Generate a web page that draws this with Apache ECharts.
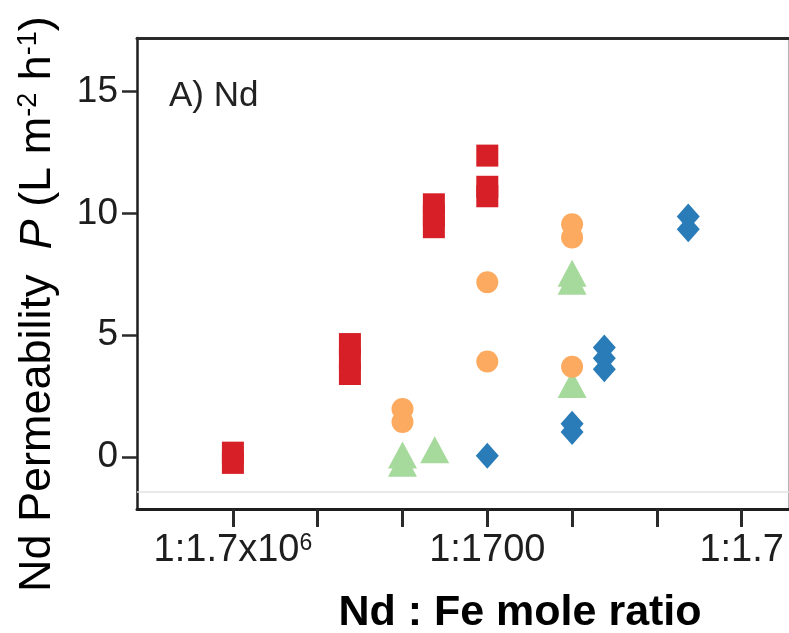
<!DOCTYPE html>
<html>
<head>
<meta charset="utf-8">
<script src="https://cdn.jsdelivr.net/npm/echarts@6/dist/echarts.min.js"></script>
<style>
  html, body { margin: 0; padding: 0; background: #fff; }
  #chart { width: 789px; height: 633px; }
</style>
</head>
<body>
<div id="chart"></div>
<script>
// x position = log10(1.7 × Nd/Fe): 1:1.7x10^6 → -6, 1:1700 → -3, 1:1.7 → 0
const squareX   = [-6, -6, -4.62, -4.62, -4.62, -3.63, -3.63, -3.63, -3, -3, -3];
const squareY   = [0.17, -0.25, 4.63, 4.02, 3.40, 10.37, 9.90, 9.43, 11.09, 10.70, 12.37];

const diamondX  = [-3, -2, -2, -1.62, -1.62, -1.62, -0.63, -0.63];
const diamondY  = [0.04, 1.36, 1.02, 4.49, 4.05, 3.60, 9.87, 9.35];

const triangleX = [-4, -4, -3.62, -2, -2, -2];
const triangleY = [0.07, -0.27, 0.29, 7.54, 7.21, 2.97];

const circleX   = [-4, -4, -3, -3, -2, -2, -2];
const circleY   = [1.96, 1.43, 7.17, 3.91, 9.55, 9.01, 3.70];

const xTickValues  = [-6, -5, -4, -3, -2, -1, 0];
const xLabelValues = [-6, -3, 0];
const xLabelTexts  = ['1:1.7x10{sup|6}', '1:1700', '1:1.7'];
const yTickValues  = [0, 5, 10, 15];

const pairs = (xs, ys) => xs.map((x, i) => [x, ys[i]]);

const FONT = '"Liberation Sans", Arial, sans-serif';
const AXIS_COLOR = '#1e1e1e';

const chart = echarts.init(document.getElementById('chart'), null, { renderer: 'canvas' });

const scatter = (name, xs, ys, symbol, size, color, extra) => Object.assign({
  name,
  type: 'scatter',
  data: pairs(xs, ys),
  symbol,
  symbolSize: size,
  itemStyle: { color, opacity: 1 },
  emphasis: { disabled: true },
  silent: true
}, extra || {});

chart.setOption({
  animation: false,
  backgroundColor: '#ffffff',
  title: {
    text: 'A) Nd',
    left: 164,
    top: 74,
    textStyle: { fontFamily: FONT, fontSize: 35, fontWeight: 'normal', color: '#222' }
  },
  grid: {
    left: 137, right: 0, top: 38, bottom: 124,
    containLabel: false,
    outerBoundsMode: 'none'
  },
  xAxis: [{
    type: 'value',
    position: 'bottom',
    min: -7.131,
    max: 0.558,
    splitLine: { show: false },
    axisLine: { show: true, onZero: false, lineStyle: { color: AXIS_COLOR, width: 3 } },
    axisTick: {
      show: true, length: 18, inside: false,
      customValues: xTickValues,
      lineStyle: { color: '#2a2a2a', width: 3 }
    },
    axisLabel: {
      show: true,
      customValues: xLabelValues,
      margin: 23,
      fontFamily: FONT,
      fontSize: 38,
      color: '#1e1e1e',
      formatter: (v) => {
        const i = xLabelValues.findIndex(t => Math.abs(t - v) < 1e-6);
        return i >= 0 ? xLabelTexts[i] : '';
      },
      rich: {
        sup: { fontFamily: FONT, fontSize: 23, color: '#1e1e1e', verticalAlign: 'top', padding: [0, 0, 15, 0] }
      }
    }
  }, {
    type: 'value',
    position: 'top',
    min: -7.131,
    max: 0.558,
    splitLine: { show: false },
    axisLine: { show: true, onZero: false, lineStyle: { color: '#2a2a2a', width: 3 } },
    axisTick: { show: false },
    axisLabel: { show: false }
  }],
  yAxis: [{
    type: 'value',
    position: 'left',
    min: -2.144,
    max: 17.20,
    splitLine: { show: false },
    axisLine: { show: true, onZero: false, lineStyle: { color: AXIS_COLOR, width: 2.5 } },
    axisTick: {
      show: true, length: 15, inside: false,
      customValues: yTickValues,
      lineStyle: { color: '#2a2a2a', width: 2.5 }
    },
    axisLabel: {
      show: true,
      customValues: yTickValues,
      margin: 19,
      fontFamily: FONT,
      fontSize: 37,
      color: '#1e1e1e'
    }
  }, {
    type: 'value',
    position: 'right',
    min: -2.144,
    max: 17.20,
    splitLine: { show: false },
    axisLine: { show: true, onZero: false, lineStyle: { color: '#9a9a9a', width: 1.5 } },
    axisTick: { show: false },
    axisLabel: { show: false }
  }],
  series: [
    scatter('square', squareX, squareY, 'rect', 22, '#d61f26', {
      markLine: {
        silent: true,
        symbol: 'none',
        label: { show: false },
        lineStyle: { color: '#e2e2e2', width: 1.5, type: 'solid' },
        data: [{ yAxis: -1.446 }]
      }
    }),
    scatter('diamond', diamondX, diamondY, 'diamond', [23, 26], '#2a7cb8'),
    scatter('triangle', triangleX, triangleY, 'triangle', [29, 27], '#a6d99c'),
    scatter('circle', circleX, circleY, 'circle', 22, '#fcaa60')
  ],
  graphic: [{
    type: 'text',
    x: 38,
    y: 592,
    rotation: Math.PI / 2,
    silent: true,
    style: {
      text: 'Nd Permeability  {i|P} (L m{sup|-2} h{sup|-1})',
      fontFamily: FONT,
      fontSize: 45,
      fill: '#000',
      textAlign: 'left',
      textVerticalAlign: 'middle',
      rich: {
        i: { fontFamily: FONT, fontSize: 45, fontStyle: 'italic', fill: '#000' },
        sup: { fontFamily: FONT, fontSize: 27, fill: '#000', verticalAlign: 'top', padding: [0, 0, 18, 0] }
      }
    }
  }, {
    type: 'text',
    x: 520,
    y: 613,
    silent: true,
    style: {
      text: 'Nd : Fe mole ratio',
      fontFamily: FONT,
      fontSize: 43,
      fontWeight: 'bold',
      fill: '#000',
      textAlign: 'center',
      textVerticalAlign: 'middle'
    }
  }]
});
</script>
</body>
</html>
